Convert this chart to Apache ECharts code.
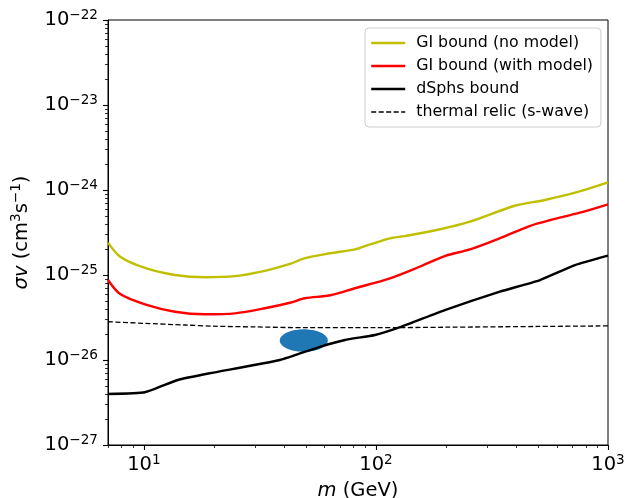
<!DOCTYPE html>
<html><head><meta charset="utf-8">
<script src="https://cdn.jsdelivr.net/npm/echarts@6/dist/echarts.min.js"></script>
<style>html,body{margin:0;padding:0;background:#fff}#c{width:627px;height:498px}</style>
</head><body><div id="c"></div>
<script>
// ---- data ----
const massNoModel  = [7.0, 7.9, 10.1, 13.6, 18.3, 24.7, 33.2, 42.6, 49.4, 63.4, 81.1, 89.7, 115, 133, 189, 254, 397, 535, 721, 1000];
const sigmaNoModel = [2.40e-25, 1.64e-25, 1.21e-25, 1.00e-25, 9.4e-26, 9.7e-26, 1.12e-25, 1.35e-25, 1.58e-25, 1.80e-25, 2.00e-25, 2.19e-25, 2.70e-25, 2.87e-25, 3.45e-25, 4.24e-25, 6.53e-25, 7.63e-25, 9.29e-25, 1.23e-24];

const massWithModel  = [7.0, 7.9, 10.1, 13.6, 18.3, 24.7, 33.2, 42.6, 49.4, 63.4, 81.1, 115, 154, 198, 254, 341, 459, 565, 757, 1000];
const sigmaWithModel = [8.73e-26, 5.97e-26, 4.52e-26, 3.70e-26, 3.45e-26, 3.54e-26, 4.06e-26, 4.72e-26, 5.32e-26, 5.77e-26, 6.98e-26, 9.15e-26, 1.25e-25, 1.67e-25, 2.00e-25, 2.70e-25, 3.77e-25, 4.44e-25, 5.41e-25, 6.79e-25];

const massDsph  = [7.0, 10.1, 14.0, 19.2, 38.5, 57.4, 73.5, 99, 127, 198, 342, 509, 721, 1000];
const sigmaDsph = [3.98e-27, 4.17e-27, 5.82e-27, 6.98e-27, 1.00e-26, 1.43e-26, 1.72e-26, 1.97e-26, 2.43e-26, 3.87e-26, 6.37e-26, 8.73e-26, 1.31e-25, 1.69e-25];

const massThermal  = [7, 10, 15, 20, 30, 50, 100, 200, 500, 1000];
const sigmaThermal = [2.82e-26, 2.70e-26, 2.58e-26, 2.50e-26, 2.45e-26, 2.40e-26, 2.40e-26, 2.43e-26, 2.48e-26, 2.52e-26];

// blue region: mass range and sigma range
const blobMass  = [38.5, 62];
const blobSigma = [1.25e-26, 2.3e-26];

const seriesNames = ['GI bound (no model)', 'GI bound (with model)', 'dSphs bound', 'thermal relic (s-wave)'];

const xRange = [7, 1000];
const yRange = [1e-27, 1e-22];
const xMajorTicks = [10, 100, 1000];
const xMinorTicks = [7, 8, 9, 20, 30, 40, 50, 60, 70, 80, 90, 200, 300, 400, 500, 600, 700, 800, 900];
const yMajorTicks = [1e-27, 1e-26, 1e-25, 1e-24, 1e-23, 1e-22];
const yMinorTicks = [];
[-27, -26, -25, -24, -23].forEach(e => { for (let k = 2; k <= 9; k++) yMinorTicks.push(k * Math.pow(10, e)); });

// ---- chart ----
const FONT = 'DejaVu Sans';
const COLORS = ['#bfbf00', '#ff0000', '#000000', '#000000'];
const WIDTHS = [2.4, 2.4, 2.4, 1.3];
const TYPES = ['solid', 'solid', 'solid', [5, 2.5]];
const pairs = (xs, ys) => xs.map((x, i) => [x, ys[i]]);
function powLabel(v) {
  const l = Math.log10(v);
  const e = Math.round(l);
  if (Math.abs(l - e) > 1e-6) return '';
  return '{b|10}{s|' + String(e).replace('-', '\u2212') + '}';
}
const labelRich = {
  b: { fontFamily: FONT, fontSize: 19.5, lineHeight: 24, color: '#000' },
  s: { fontFamily: FONT, fontSize: 13.6, lineHeight: 14, verticalAlign: 'top', color: '#000' }
};

const chart = echarts.init(document.getElementById('c'), null, { renderer: 'canvas' });

function xTick(params, api) {
  const v = api.value(0);
  const p = api.coord([v, yRange[0]]);
  const major = xMajorTicks.indexOf(v) >= 0;
  const len = major ? 5 : 3;
  const x = Math.round(p[0]) + 0.5;
  return { type: 'line', shape: { x1: x, y1: p[1], x2: x, y2: p[1] + len },
           style: { stroke: '#000', lineWidth: major ? 1.1 : 0.8 } };
}
function yTick(params, api) {
  const v = api.value(1);
  const p = api.coord([xRange[0], v]);
  const l = Math.log10(v);
  const major = Math.abs(l - Math.round(l)) < 1e-6;
  const len = major ? 5 : 3;
  const y = Math.round(p[1]) + 0.5;
  return { type: 'line', shape: { x1: p[0], y1: y, x2: p[0] - len, y2: y },
           style: { stroke: '#000', lineWidth: major ? 1.1 : 0.8 } };
}

const curves = [
  pairs(massNoModel, sigmaNoModel),
  pairs(massWithModel, sigmaWithModel),
  pairs(massDsph, sigmaDsph),
  pairs(massThermal, sigmaThermal)
];
const smooths = [0.3, 0.3, 0.15, 0.3];

const option = {
  animation: false,
  backgroundColor: '#fff',
  grid: { left: 108, right: 19, top: 20, bottom: 53, outerBoundsMode: 'none', containLabel: false,
          show: true, borderColor: '#000', borderWidth: 1, backgroundColor: 'transparent' },
  legend: {
    data: seriesNames.map((n, i) => ({ name: n, lineStyle: { color: COLORS[i], width: WIDTHS[i], type: TYPES[i] } })),
    orient: 'vertical',
    left: 365, top: 28,
    itemWidth: 34, itemHeight: 14, itemGap: 5,
    padding: [6, 8, 6, 5],
    backgroundColor: '#fff', borderColor: '#ccc', borderWidth: 1, borderRadius: 4,
    itemStyle: { opacity: 0 },
    textStyle: { fontFamily: FONT, fontSize: 15.8, lineHeight: 18, color: '#000', padding: [0, 0, 0, 6] }
  },
  xAxis: {
    type: 'log', logBase: 10, min: xRange[0], max: xRange[1],
    name: '{i|m} (GeV)', nameLocation: 'middle', nameGap: 34,
    nameTextStyle: { fontFamily: FONT, fontSize: 19.5, color: '#000', lineHeight: 22,
      rich: { i: { fontFamily: FONT, fontStyle: 'italic', fontSize: 19.5, lineHeight: 22, color: '#000' } } },
    axisLine: { show: true, lineStyle: { color: '#000', width: 1 } },
    axisTick: { show: false },
    minorTick: { show: false },
    splitLine: { show: false },
    axisLabel: { margin: 8, formatter: powLabel, rich: labelRich, showMinLabel: true, showMaxLabel: true, hideOverlap: false }
  },
  yAxis: {
    // extent (1e-27 .. 1e-22) comes from the tick-mark series data, which spans exactly these decades
    type: 'log', logBase: 10, splitNumber: 5,
    name: '{i|\u03c3v} (cm{s|3}s{s|\u22121})', nameLocation: 'middle', nameGap: 72, nameRotate: 90,
    nameTextStyle: { fontFamily: FONT, fontSize: 19.5, color: '#000', lineHeight: 24,
      rich: {
        i: { fontFamily: FONT, fontStyle: 'italic', fontSize: 19.5, lineHeight: 24, color: '#000' },
        s: { fontFamily: FONT, fontSize: 13.6, lineHeight: 14, verticalAlign: 'top', color: '#000' }
      } },
    axisLine: { show: true, lineStyle: { color: '#000', width: 1 } },
    axisTick: { show: false },
    minorTick: { show: false },
    splitLine: { show: false },
    axisLabel: { margin: 10, formatter: powLabel, rich: labelRich, showMinLabel: true, showMaxLabel: true, hideOverlap: false }
  },
  series: [
    {
      type: 'custom', name: 'region', silent: true, z: 1,
      data: [[blobMass[0], blobMass[1], blobSigma[0], blobSigma[1]]],
      encode: { x: [0, 1], y: [2, 3] },
      renderItem: function (params, api) {
        const a = api.coord([api.value(0), api.value(2)]);
        const b = api.coord([api.value(1), api.value(3)]);
        const cx = (a[0] + b[0]) / 2, cy = (a[1] + b[1]) / 2;
        const rx = Math.abs(b[0] - a[0]) / 2, ry = Math.abs(b[1] - a[1]) / 2;
        const pts = [];
        for (let k = 0; k < 72; k++) {
          const t = k / 72 * Math.PI * 2;
          pts.push([cx + rx * Math.cos(t), cy + ry * Math.sin(t)]);
        }
        return { type: 'polygon', shape: { points: pts }, style: { fill: '#1f77b4' } };
      }
    }
  ].concat(seriesNames.map((n, i) => ({
      name: n, type: 'line', data: curves[i],
      symbol: 'none', smooth: smooths[i], z: i === 2 ? 4 : 3, color: COLORS[i],
      lineStyle: { color: COLORS[i], width: WIDTHS[i], type: TYPES[i] }
  }))).concat([
    {
      type: 'custom', name: 'xticks', silent: true, clip: false, z: 5,
      data: xMajorTicks.concat(xMinorTicks).map(v => [v, yRange[0]]),
      encode: { x: 0, y: 1 }, renderItem: xTick
    },
    {
      type: 'custom', name: 'yticks', silent: true, clip: false, z: 5,
      data: yMajorTicks.concat(yMinorTicks).map(v => [xRange[0], v]),
      encode: { x: 0, y: 1 }, renderItem: yTick
    }
  ])
};
chart.setOption(option);
</script>
</body></html>
